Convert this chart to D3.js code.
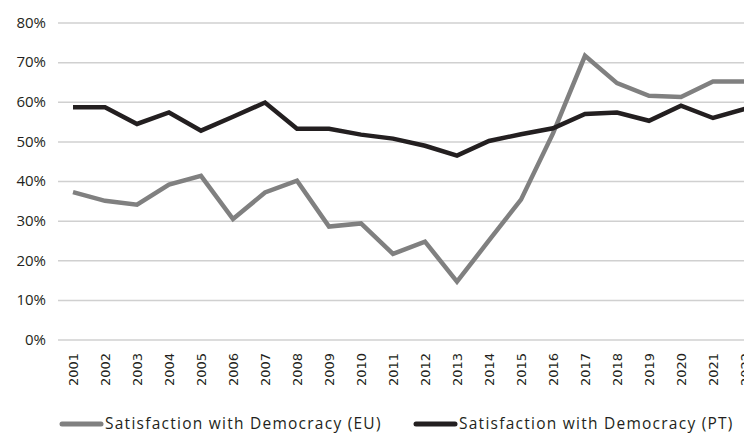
<!DOCTYPE html>
<html>
<head>
<meta charset="utf-8">
<title></title>
<script type="text/javascript" src="https://cdn.jsdelivr.net/npm/d3@7"></script>
<style>
    body { margin: 0; background: #fff; }
</style>
</head>
<body>
<div id="chart"></div>
<script type="text/javascript">
    var years = ["2001", "2002", "2003", "2004", "2005", "2006", "2007", "2008", "2009", "2010", "2011",
                 "2012", "2013", "2014", "2015", "2016", "2017", "2018", "2019", "2020", "2021", "2022"];
    var euValues = [37.2, 35.0, 34.0, 39.1, 41.3, 30.4, 37.1, 40.1, 28.5, 29.3, 21.6,
                    24.7, 14.6, 25.0, 35.3, 52.0, 71.6, 64.7, 61.5, 61.2, 65.1, 65.1];
    var ptValues = [58.6, 58.6, 54.4, 57.3, 52.7, 56.2, 59.8, 53.2, 53.2, 51.7, 50.7,
                    48.9, 46.4, 50.1, 51.8, 53.3, 56.9, 57.3, 55.2, 59.0, 55.9, 58.2];
    var yTicks = [0, 10, 20, 30, 40, 50, 60, 70, 80];
    var seriesNames = ["Satisfaction with Democracy (EU)", "Satisfaction with Democracy (PT)"];
    var seriesColors = ["#808080", "#231f20"];

    var w = 744, h = 435;
    var svg = d3.select("#chart").append("svg")
        .attr("width", w)
        .attr("height", h);

    var x = d3.scalePoint().domain(years).range([73, 745]);
    var y = d3.scaleLinear().domain([0, 80]).range([339.5, 22.5]);

    // gridlines + y labels
    var yAxis = svg.append("g")
        .attr("transform", "translate(58,0)")
        .call(d3.axisLeft(y).tickValues(yTicks).tickSize(-700).tickFormat(function (d) { return d + "%"; }));
    yAxis.select(".domain").remove();
    yAxis.selectAll(".tick line").attr("stroke", "#d0d0d0").attr("stroke-width", 1.5);
    yAxis.selectAll(".tick text")
        .attr("x", -12)
        .attr("fill", "#231f20")
        .style("font-family", "'Open Sans', sans-serif")
        .style("font-size", "15px");

    // x labels, rotated
    var xAxis = svg.append("g")
        .attr("transform", "translate(0,350)")
        .call(d3.axisBottom(x).tickSize(0));
    xAxis.select(".domain").remove();
    xAxis.selectAll(".tick text")
        .attr("transform", "rotate(-90)")
        .attr("x", -3)
        .attr("y", 0)
        .attr("dy", "0.35em")
        .style("text-anchor", "end")
        .attr("fill", "#231f20")
        .style("font-family", "'DejaVu Sans', sans-serif")
        .style("font-size", "13px");

    var line = d3.line()
        .x(function (d, i) { return x(years[i]); })
        .y(function (d) { return y(d); });

    [euValues, ptValues].forEach(function (vals, k) {
        svg.append("path")
            .datum(vals)
            .attr("d", line)
            .attr("fill", "none")
            .attr("stroke", seriesColors[k])
            .attr("stroke-width", 4.5)
            .attr("stroke-linejoin", "miter");
    });

    // legend
    var legendX = [62, 416];
    var legend = svg.selectAll(".legend")
        .data(seriesNames)
        .enter()
        .append("g")
        .attr("class", "legend")
        .attr("transform", function (d, i) { return "translate(" + legendX[i] + ",424)"; });
    legend.append("line")
        .attr("x1", 0).attr("x2", 39)
        .attr("stroke", function (d, i) { return seriesColors[i]; })
        .attr("stroke-width", 5)
        .attr("stroke-linecap", "round");
    legend.append("text")
        .attr("x", 43)
        .attr("dy", "0.35em")
        .attr("fill", "#231f20")
        .style("font-family", "'Open Sans', sans-serif")
        .style("font-size", "15.5px")
        .style("letter-spacing", "1.25px")
        .text(function (d) { return d; });
</script>
</body>
</html>
